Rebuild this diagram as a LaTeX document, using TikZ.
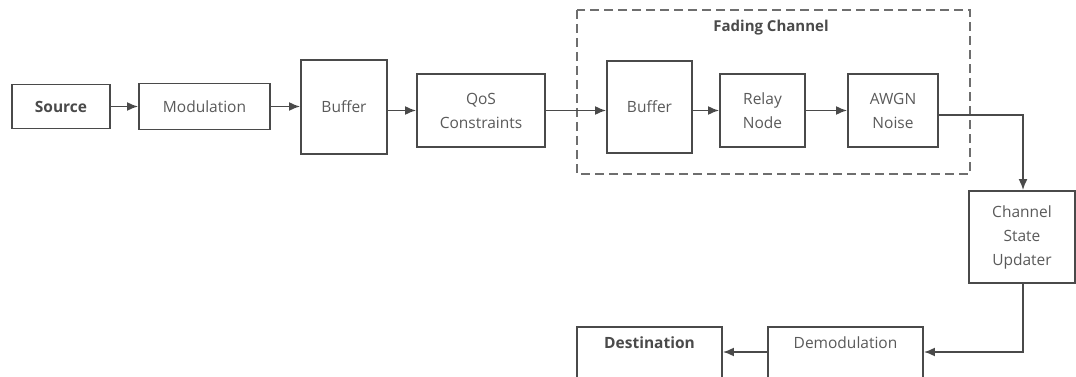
\documentclass[tikz,border=0pt]{standalone}
\usepackage{fontspec}
\setmainfont{Open Sans}
\usetikzlibrary{arrows.meta,positioning}
\definecolor{ln}{HTML}{4A4A4A}
\definecolor{tx}{HTML}{5A5A5A}
\tikzset{
  blk/.style={draw=ln,line width=1.9pt,fill=white,align=center,font=\fontsize{15.5}{24}\selectfont,text=tx,inner sep=2pt},
  lowblk/.style={blk,anchor=north,inner ysep=5pt,text height=17pt,text depth=40pt},
  conn/.style={draw=ln,line width=1.7pt,-{Latex[length=11pt,width=9pt]}},
}
\begin{document}
\begin{tikzpicture}[x=1pt,y=-1pt]
\useasboundingbox (0,0) rectangle (1076,377);
% dashed fading channel region
\draw[draw=ln!80,line width=1.6pt,dash pattern=on 9pt off 5pt] (577,10) rectangle (970,174);
\node[font=\fontsize{15}{18}\selectfont\bfseries,text=ln] (fc) at (771,28) {Fading Channel};
\node[blk,minimum width=98,minimum height=44,font=\fontsize{15.5}{24}\selectfont\bfseries,text=ln] (src) at (61,106.5) {Source};
\node[blk,minimum width=131,minimum height=46] (mod) at (204.5,106.5) {Modulation};
\node[blk,minimum width=86,minimum height=94] (buf1) at (344,107) {Buffer};
\node[blk,minimum width=128,minimum height=73] (qos) at (481,110.5) {QoS\\Constraints};
\node[blk,minimum width=85,minimum height=92] (buf2) at (649.5,107) {Buffer};
\node[blk,minimum width=85,minimum height=73] (relay) at (762.5,110.5) {Relay\\Node};
\node[blk,minimum width=90,minimum height=73] (awgn) at (893,110.5) {AWGN\\Noise};
\node[blk,minimum width=106,minimum height=92] (csu) at (1022,237) {Channel\\State\\Updater};
\node[lowblk,minimum width=155] (demod) at (845.5,326) {Demodulation};
\node[lowblk,minimum width=145,font=\fontsize{15.5}{24}\selectfont\bfseries,text=ln] (dest) at (649.5,326) {Destination};
% connectors
\draw[conn] (src.east) -- (mod.west);
\draw[conn] (mod.east) -- (buf1.west |- mod.east);
\draw[conn] (buf1.east |- qos.west) -- (qos.west);
\draw[conn] (qos.east) -- (buf2.west |- qos.east);
\draw[conn] (buf2.east |- relay.west) -- (relay.west);
\draw[conn] (relay.east) -- (awgn.west);
\coordinate (c1) at (1023,115);
\draw[conn] (awgn.east |- c1) -- (c1) -- (csu.north -| c1);
\coordinate (c2) at (1023,352);
\draw[conn] (csu.south -| c2) -- (c2) -- (demod.east |- c2);
\draw[conn] (demod.west |- c2) -- (dest.east |- c2);
\end{tikzpicture}
\end{document}
